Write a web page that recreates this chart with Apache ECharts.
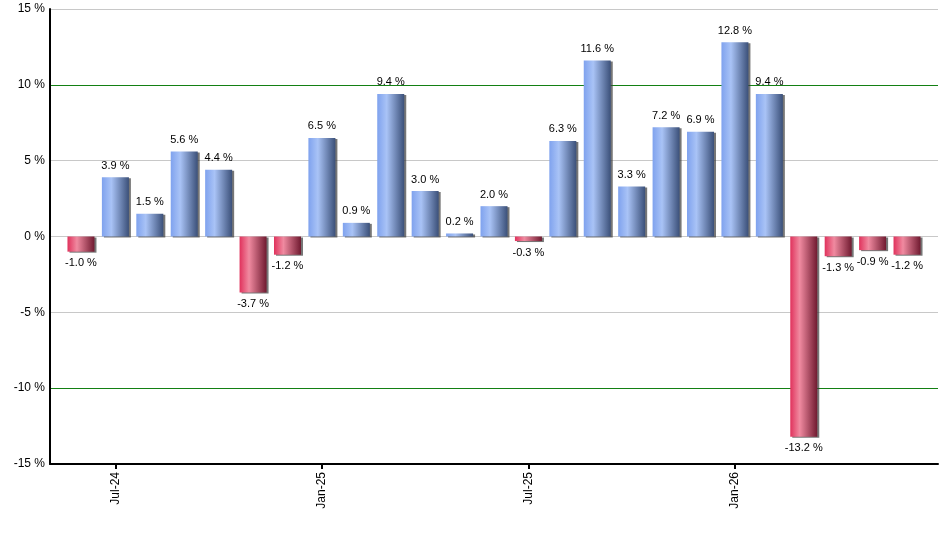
<!DOCTYPE html>
<html>
<head>
<meta charset="utf-8">
<script src="https://cdn.jsdelivr.net/npm/echarts@6/dist/echarts.min.js"></script>
<style>
html, body { margin: 0; padding: 0; background: #fff; }
#main { width: 940px; height: 550px; }
</style>
</head>
<body>
<div id="main"></div>
<script>
// months, Jun-24 .. Jun-26
const months = ['Jun-24', 'Jul-24', 'Aug-24', 'Sep-24', 'Oct-24', 'Nov-24', 'Dec-24',
	'Jan-25', 'Feb-25', 'Mar-25', 'Apr-25', 'May-25', 'Jun-25', 'Jul-25', 'Aug-25',
	'Sep-25', 'Oct-25', 'Nov-25', 'Dec-25', 'Jan-26', 'Feb-26', 'Mar-26', 'Apr-26',
	'May-26', 'Jun-26'];
const returns = [-1.0, 3.9, 1.5, 5.6, 4.4, -3.7, -1.2, 6.5, 0.9, 9.4, 3.0, 0.2, 2.0,
	-0.3, 6.3, 11.6, 3.3, 7.2, 6.9, 12.8, 9.4, -13.2, -1.3, -0.9, -1.2];
// months that get a tick label on the x axis
const labelIdx = [1, 7, 13, 19];
const yTicks = [-15, -10, -5, 0, 5, 10, 15];

let myChart = echarts.init(document.getElementById('main'));

function grad(neg) {
	if (neg) {
		return new echarts.graphic.LinearGradient(0, 0, 1, 0, [
			{ offset: 0, color: '#e0325c' },
			{ offset: 0.35, color: '#f08aa0' },
			{ offset: 1, color: '#701a30' }
		]);
	}
	return new echarts.graphic.LinearGradient(0, 0, 1, 0, [
		{ offset: 0, color: '#7fa2ee' },
		{ offset: 0.35, color: '#a9c3f6' },
		{ offset: 1, color: '#3b5079' }
	]);
}

const barData = returns.map(function (v, i) {
	return {
		value: [i, v],
		itemStyle: { color: grad(v < 0) },
		label: { position: v < 0 ? 'bottom' : 'top' }
	};
});

const font = '"Liberation Sans", Arial, sans-serif';

const option = {
	animation: false,
	grid: { left: 50, right: 2, top: 9, bottom: 86 },
	xAxis: {
		type: 'value',
		min: -0.9,
		max: 24.9,
		splitLine: { show: false },
		axisLine: { onZero: false, lineStyle: { color: '#000', width: 2 } },
		axisTick: { show: true, customValues: labelIdx, length: 5, lineStyle: { color: '#000', width: 2 } },
		axisLabel: {
			customValues: labelIdx,
			rotate: 90,
			margin: 8,
			color: '#000',
			fontSize: 12,
			fontFamily: font,
			formatter: function (v) { return months[Math.round(v)]; }
		}
	},
	yAxis: {
		type: 'value',
		min: -15,
		max: 15,
		interval: 5,
		axisLine: { show: true, onZero: false, lineStyle: { color: '#000', width: 2 } },
		axisTick: { show: false },
		axisLabel: {
			color: '#000',
			fontSize: 12,
			fontFamily: font,
			margin: 5,
			formatter: '{value} %'
		},
		splitLine: {
			lineStyle: {
				color: yTicks.map(function (t) { return Math.abs(t) === 10 ? '#138013' : '#c8c8c8'; }),
				width: 1
			}
		}
	},
	series: [{
		type: 'bar',
		barWidth: 27,
		data: barData,
		itemStyle: {
			shadowColor: 'rgba(60,60,60,0.7)',
			shadowOffsetX: 2,
			shadowOffsetY: 1,
			shadowBlur: 0
		},
		label: {
			show: true,
			distance: 6,
			color: '#000',
			fontSize: 11,
			fontFamily: font,
			formatter: function (p) { return p.value[1].toFixed(1) + ' %'; }
		}
	}]
};
myChart.setOption(option);
</script>
</body>
</html>
